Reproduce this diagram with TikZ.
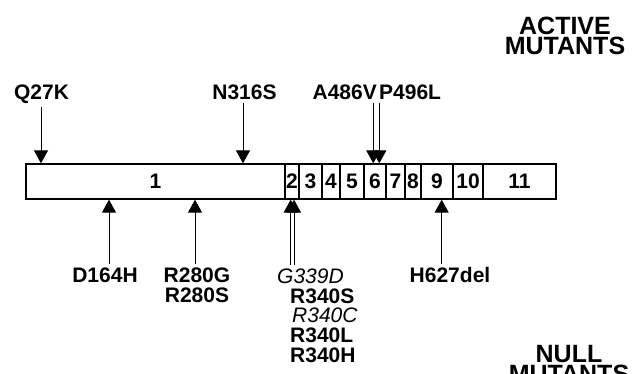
\documentclass[tikz,border=0pt]{standalone}
\usepackage{fontspec}
\setmainfont{Liberation Sans}
\usetikzlibrary{arrows.meta,positioning}

\begin{document}
\begin{tikzpicture}[
  x=1pt, y=-1pt,
  >={Triangle[width=14pt,length=13pt]},
  exon/.style={draw, line width=1.3pt, inner sep=0pt, minimum height=35pt, font=\fontsize{21}{22}\selectfont\bfseries},
  mutlabel/.style={inner xsep=0pt, inner ysep=3.5pt, anchor=base, font=\fontsize{21}{22}\selectfont\bfseries},
  mutlabelit/.style={mutlabel, font=\fontsize{21}{22}\selectfont\itshape},
  mutarrow/.style={->, line width=1pt},
  heading/.style={align=center, inner sep=0pt, anchor=north, font=\fontsize{25}{20}\selectfont\bfseries},
]
\useasboundingbox (0,0) rectangle (634,373);

% Exons
\foreach \n/\l/\r in {1/26/285, 2/285/299, 3/299/322, 4/322/340, 5/340/364, 6/364/386, 7/386/405, 8/405/421, 9/421/453, 10/453/483, 11/483/556} {
  \node[exon, minimum width={\r-\l}] (exon\n) at ({(\l+\r)/2}, 181.5) {\n};
}

% Headings
\node[heading] (active) at (565, 17) {ACTIVE\\MUTANTS};
\node[heading] (null) at (569, 345) {NULL\\MUTANTS};

% Active mutants (above)
\node[mutlabel] (q27k) at (41.5, 99) {Q27K};
\node[mutlabel] (n316s) at (244.5, 99) {N316S};
\node[mutlabel, anchor=base east] (a486v) at (377, 99) {A486V};
\node[mutlabel, anchor=base west] (p496l) at (379, 99) {P496L};

\foreach \lab/\x in {q27k/41, n316s/243, a486v/373.3, p496l/379.3} {
  \coordinate (hit-\lab) at (\x,0 |- exon1.north);
  \draw[mutarrow] (hit-\lab |- \lab.south) -- (hit-\lab);
}

% Null mutants (below)
\node[mutlabel] (d164h) at (105, 282) {D164H};
\node[mutlabel] (r280g) at (197, 282) {R280G};
\node[mutlabel] (r280s) at (197, 302) {R280S};
\node[mutlabelit, anchor=base west] (g339d) at (277, 283) {G339D};
\node[mutlabel, anchor=base west] (r340s) at (290, 303) {R340S};
\node[mutlabelit, anchor=base west] (r340c) at (292, 322.5) {R340C};
\node[mutlabel, anchor=base west] (r340l) at (290, 342) {R340L};
\node[mutlabel, anchor=base west] (r340h) at (290, 362) {R340H};
\node[mutlabel] (h627del) at (450, 282.5) {H627del};

\foreach \k/\lab/\x in {1/d164h/109, 2/r280g/195, 3/g339d/290.7, 4/g339d/294, 5/h627del/441.7} {
  \coordinate (hit-\k) at (\x,0 |- exon1.south);
  \draw[mutarrow] (hit-\k |- \lab.north) -- (hit-\k);
}
\end{tikzpicture}
\end{document}
